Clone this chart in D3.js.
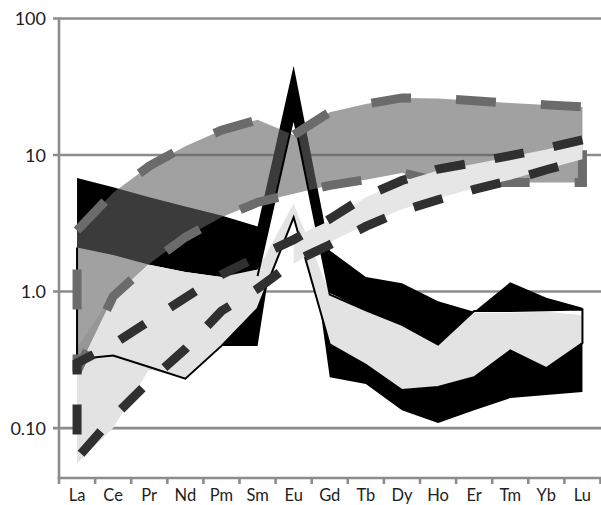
<!DOCTYPE html>
<html><head><meta charset="utf-8">
<script src="https://cdn.jsdelivr.net/npm/d3@7"></script>
<style>body{margin:0;background:#fff} svg{display:block} text{font-family:Lato,"Open Sans",sans-serif}</style>
</head><body><svg id="c" width="601" height="505"></svg>
<script>
const categories = ["La","Ce","Pr","Nd","Pm","Sm","Eu","Gd","Tb","Dy","Ho","Er","Tm","Yb","Lu"];
const yTickValues = [0.1, 1, 10, 100];
const yTickLabels = ["0.10", "1.0", "10", "100"];

// black band (with Eu spike)
const blackMax = [6.8, 5.8, 4.9, 4.2, 3.6, 3.0, 45, 2.0, 1.28, 1.15, 0.85, 0.71, 1.17, 0.9, 0.76];
const blackMin = [0.3, 0.33, 0.27, 0.25, 0.4, 0.4, 19, 0.236, 0.21, 0.135, 0.109, 0.135, 0.166, 0.175, 0.184];
// white band with black outline
const whiteMax = [2.1, 1.85, 1.57, 1.39, 1.28, 1.3, 19, 0.95, 0.73, 0.57, 0.41, 0.72, 0.72, 0.73, 0.74];
const whiteMin = [0.32, 0.34, 0.28, 0.23, 0.4, 0.75, 3.5, 0.41, 0.29, 0.19, 0.2, 0.236, 0.37, 0.275, 0.42];
// light grey band (left part)
const lightMax = [0.39, 0.95, 1.57, 1.39, 1.28, 1.45, 4.4, null, null, null, null, null, null, null, null];
const lightMin = [0.055, 0.1, 0.27, 0.23, 0.4, 0.75, 3.5, null, null, null, null, null, null, null, null];
// light grey band (HREE part)
const light2Max = [null, null, null, null, null, null, 4.4, 0.975, 0.73, 0.57, 0.41, 0.70, 0.70, 0.71, 0.67];
const light2Min = [null, null, null, null, null, null, 3.5, 0.41, 0.29, 0.19, 0.20, 0.236, 0.37, 0.275, 0.42];
// light strip between dashed curves
const stripMax = [null, null, null, null, null, null, 2.5, 3.3, 4.9, 6.4, 7.7, 8.6, 9.7, 11.0, 12.6];
const stripMin = [null, null, null, null, null, null, 1.6, 2.3, 3.1, 4.0, 4.8, 5.7, 6.6, 7.9, 9.3];
// medium grey band (dashed outline)
const greyMax = [2.8, 5.3, 8.3, 11.6, 15.2, 18.1, 14, 20.6, 23.6, 26.2, 26, 25, 24, 23.3, 22.5];
const greyMin = [0.26, 0.92, 1.6, 2.5, 3.5, 4.5, 5.2, 6.0, 6.6, 7.4, 6.4, 6.3, 6.3, 6.3, 6.3];
// dark dashed curves
const dashUpper = [0.3, 0.41, 0.61, 0.9, 1.33, 1.8, 2.4, 3.4, 5.0, 6.5, 7.9, 8.8, 9.9, 11.2, 12.9];
const dashLower = [0.06, 0.12, 0.22, 0.38, 0.72, 1.05, 1.65, 2.2, 3.0, 3.9, 4.7, 5.6, 6.5, 7.8, 9.2];

const svg = d3.select("#c");
const x = d3.scaleBand().domain(categories).range([59, 600.5]).padding(0);
const cx = c => x(c) + x.bandwidth() / 2;
const y = d3.scaleLog().domain([0.0431, 100]).range([478, 18.5]);

function rows(hi, lo) { return categories.map((c, i) => ({c, hi: hi[i], lo: lo[i]})); }
const area = d3.area().defined(d => d.hi != null && d.lo != null)
  .x(d => cx(d.c)).y0(d => y(d.lo)).y1(d => y(d.hi));
function loopPts(hi, lo) {
  const r = rows(hi, lo).filter(d => d.hi != null && d.lo != null);
  return r.map(d => [cx(d.c), y(d.hi)]).concat(r.slice().reverse().map(d => [cx(d.c), y(d.lo)]));
}
const closed = d3.line().curve(d3.curveLinearClosed);
const open = d3.line();

const gridColor = "#8c8c8c";
svg.append("g").selectAll("line").data(yTickValues).join("line")
  .attr("x1", 53).attr("x2", 601).attr("y1", d => y(d)).attr("y2", d => y(d))
  .attr("stroke", gridColor).attr("stroke-width", 2.6);

// bands
svg.append("path").attr("d", area(rows(blackMax, blackMin))).attr("fill", "#000");
svg.append("path").attr("d", area(rows(whiteMax, whiteMin))).attr("fill", "#fff");
svg.append("path").attr("d", area(rows(lightMax, lightMin))).attr("fill", "#e3e3e3");
svg.append("path").attr("d", area(rows(light2Max, light2Min))).attr("fill", "#e3e3e3");
svg.append("path").attr("d", area(rows(greyMax, greyMin))).attr("fill", "#626262").attr("fill-opacity", 0.6);
// outline of the white band (its upper LREE edge lies along the black band)
const sIdx = categories.indexOf("Sm");
const wOutline = categories.map((c, i) => [cx(c), y(whiteMax[i])]).slice(sIdx)
  .concat(categories.map((c, i) => [cx(c), y(whiteMin[i])]).reverse())
  .concat([[cx("La"), y(whiteMax[0])]]);
svg.append("path").attr("d", open(wOutline)).attr("fill", "none")
  .attr("stroke", "#000").attr("stroke-width", 2).attr("stroke-linejoin", "miter");
svg.append("path").attr("d", closed(loopPts(greyMax, greyMin))).attr("fill", "none")
  .attr("stroke", "#6b6b6b").attr("stroke-width", 9).attr("stroke-dasharray", "40 45");
svg.append("path").attr("d", area(rows(stripMax, stripMin))).attr("fill", "#e6e6e6");
// dark dashed curves, joined at La
const dpts = categories.map((c, i) => [cx(c), y(dashUpper[i])]).reverse()
  .concat(categories.map((c, i) => [cx(c), y(dashLower[i])]));
svg.append("path").attr("d", open(dpts)).attr("fill", "none")
  .attr("stroke", "#303030").attr("stroke-width", 9).attr("stroke-dasharray", "30 30");

// axes
svg.append("line").attr("x1", 59).attr("x2", 59).attr("y1", y(100)).attr("y2", 478)
  .attr("stroke", gridColor).attr("stroke-width", 2.6);
svg.append("line").attr("x1", 57.7).attr("x2", 601).attr("y1", 478).attr("y2", 478)
  .attr("stroke", gridColor).attr("stroke-width", 2.6);
const tickX = categories.map(c => x(c)).concat([x.range()[1]]);
svg.append("g").selectAll("line").data(tickX).join("line")
  .attr("x1", d => d).attr("x2", d => d).attr("y1", 478).attr("y2", 484)
  .attr("stroke", gridColor).attr("stroke-width", 2.6);

svg.append("g").selectAll("text").data(yTickValues).join("text")
  .attr("x", 46).attr("y", d => y(d) + 6.5).attr("text-anchor", "end")
  .attr("font-size", 18).attr("fill", "#1e1e1e").text((d, i) => yTickLabels[i]);
svg.append("g").selectAll("text").data(categories).join("text")
  .attr("x", d => cx(d)).attr("y", 500.5).attr("text-anchor", "middle")
  .attr("font-size", 16.5).attr("fill", "#1e1e1e").text(d => d);
</script></body></html>
